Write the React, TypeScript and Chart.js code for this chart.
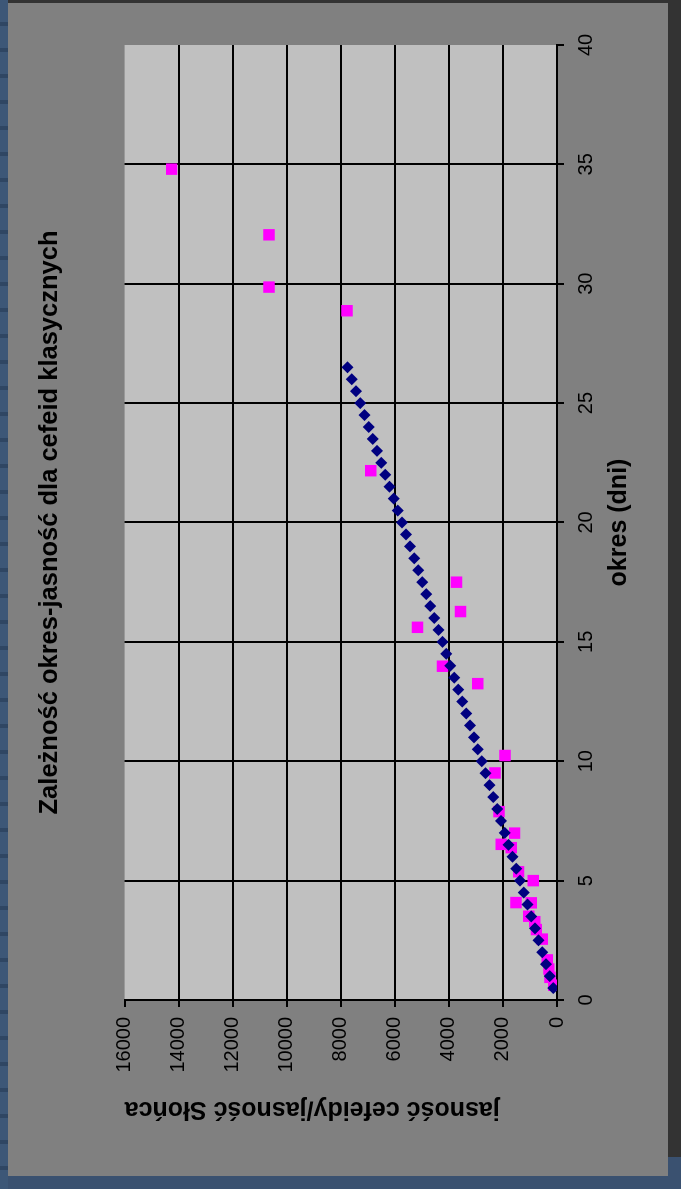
import React, { useEffect, useRef } from "react";
import { Chart, registerables } from "chart.js";

Chart.register(...registerables);

// ---- data ----
const chartTitle = "Zależność okres-jasność dla cefeid klasycznych";
const periodTitle = "okres (dni)";
const lumTitle = "jasność cefeidy/jasność Słońca";

const periodMin = 0;
const periodMax = 40;
const periodStep = 5;
const lumMin = 0;
const lumMax = 16000;
const lumStep = 2000;

// observed cepheids (magenta squares)
const obsPeriod = [
  34.8, 32.05, 29.86, 28.87, 22.17, 17.5, 16.27, 15.61, 13.98, 13.25, 10.24, 9.51, 7.89, 6.99,
  6.52, 6.38, 5.37, 5.0, 4.08, 4.07, 3.51, 3.28, 2.95, 2.55, 1.68, 1.3, 0.95, 0.62,
];
const obsLum = [
  14260, 10656, 10656, 7767, 6889, 3719, 3571, 5160, 4236, 2931, 1921, 2291, 2143, 1568,
  2062, 1691, 1420, 877, 1520, 950, 1042, 824, 764, 545, 364, 300, 260, 121,
];

// period-luminosity relation (navy diamonds)
const fitPeriod = [
  0.5, 1.0, 1.5, 2.0, 2.5, 3.0, 3.5, 4.0, 4.5, 5.0, 5.5, 6.0, 6.5, 7.0, 7.5, 8.0, 8.5, 9.0,
  9.5, 10.0, 10.5, 11.0, 11.5, 12.0, 12.5, 13.0, 13.5, 14.0, 14.5, 15.0, 15.5, 16.0, 16.5,
  17.0, 17.5, 18.0, 18.5, 19.0, 19.5, 20.0, 20.5, 21.0, 21.5, 22.0, 22.5, 23.0, 23.5, 24.0,
  24.5, 25.0, 25.5, 26.0, 26.5,
];
const fitLum = [
  135, 271, 407, 543, 680, 818, 956, 1094, 1232, 1371, 1511, 1651, 1791, 1932, 2073, 2214,
  2356, 2499, 2642, 2785, 2929, 3073, 3217, 3362, 3508, 3654, 3800, 3947, 4094, 4241, 4389,
  4538, 4686, 4836, 4985, 5135, 5286, 5437, 5588, 5740, 5892, 6045, 6198, 6351, 6505, 6660,
  6814, 6970, 7125, 7281, 7438, 7595, 7752,
];

// ---- layout (chart drawn in its natural orientation, then turned 90° left) ----
const W = 1173;
const H = 660;
const FONT = 'Arial, "Liberation Sans", sans-serif';

const bgPlugin = {
  id: "bg",
  beforeDraw(chart: any) {
    const { ctx, chartArea } = chart;
    ctx.save();
    ctx.fillStyle = "#808080";
    ctx.fillRect(0, 0, chart.width, chart.height);
    ctx.fillStyle = "#c0c0c0";
    ctx.fillRect(chartArea.left, chartArea.top, chartArea.right - chartArea.left, chartArea.bottom - chartArea.top);
    ctx.restore();
  },
};

export default function App() {
  const ref = useRef<HTMLCanvasElement>(null);

  useEffect(() => {
    const canvas = ref.current;
    if (!canvas) return;
    const chart = new Chart(canvas, {
      type: "scatter",
      data: {
        datasets: [
          {
            label: "zależność",
            data: fitPeriod.map((p, i) => ({ x: p, y: fitLum[i] })),
            pointStyle: "rectRot",
            pointRadius: 6,
            backgroundColor: "#000080",
            borderColor: "#000080",
            borderWidth: 0,
          },
          {
            label: "cefeidy",
            data: obsPeriod.map((p, i) => ({ x: p, y: obsLum[i] })),
            pointStyle: "rect",
            pointRadius: 8.1,
            backgroundColor: "#ff00ff",
            borderColor: "#ff00ff",
            borderWidth: 0,
          },
        ],
      },
      options: {
        responsive: false,
        animation: false,
        devicePixelRatio: 1,
        layout: { padding: { top: 12, left: 0, right: 42, bottom: 0 } },
        plugins: {
          legend: { display: false },
          tooltip: { enabled: false },
          title: {
            display: true,
            text: chartTitle,
            fullSize: false,
            color: "#000000",
            font: { family: FONT, size: 25.5, weight: "bold" },
            padding: { top: 15, bottom: 59 },
          },
        },
        scales: {
          x: {
            type: "linear",
            position: "bottom",
            min: periodMin,
            max: periodMax,
            afterFit: (s: any) => {
              s.height = 111;
            },
            ticks: {
              stepSize: periodStep,
              color: "#000000",
              padding: 10,
              maxRotation: 0,
              font: { family: FONT, size: 20 },
              callback: (v: any) => String(v),
            },
            grid: {
              color: (c: any) => (c.tick && c.tick.value === periodMax ? "rgba(0,0,0,0)" : "#000000"),
              tickColor: "#000000",
              lineWidth: 2,
              tickLength: 7,
              drawTicks: true,
            },
            border: { display: true, color: "#000000", width: 2 },
            title: {
              display: true,
              text: periodTitle,
              color: "#000000",
              font: { family: FONT, size: 25, weight: "bold" },
              padding: { top: 0, bottom: 34 },
            },
          },
          y: {
            type: "linear",
            position: "left",
            min: lumMin,
            max: lumMax,
            afterFit: (s: any) => {
              s.width = 176;
            },
            ticks: {
              stepSize: lumStep,
              color: "#000000",
              padding: 10,
              font: { family: FONT, size: 20 },
              callback: (v: any) => String(v),
            },
            grid: {
              color: (c: any) => (c.tick && c.tick.value === lumMax ? "rgba(0,0,0,0)" : "#000000"),
              tickColor: "#000000",
              lineWidth: 2,
              tickLength: 7,
              drawTicks: true,
            },
            border: { display: true, color: "#000000", width: 2 },
            title: {
              display: true,
              text: lumTitle,
              align: "end",
              color: "#000000",
              font: { family: FONT, size: 25, weight: "bold" },
              padding: { top: 52, bottom: 0 },
            },
          },
        },
      },
      plugins: [bgPlugin],
    } as any);
    return () => chart.destroy();
  }, []);

  return (
    <div
      style={{
        position: "fixed",
        left: 0,
        top: 0,
        width: 681,
        height: 1189,
        overflow: "hidden",
        background: "repeating-linear-gradient(to bottom, #3d5777 0px, #3d5777 22px, #2f4663 22px, #2f4663 26px)",
      }}
    >
      <div style={{ position: "absolute", left: 8, top: 0, width: 673, height: 3, background: "#333333" }} />
      <div style={{ position: "absolute", left: 668, top: 0, width: 13, height: 1157, background: "#333333" }} />
      <div style={{ position: "absolute", left: 8, top: 1176, width: 673, height: 13, background: "#3a5170" }} />
      <div style={{ position: "absolute", left: 668, top: 1157, width: 13, height: 19, background: "#3a5170" }} />
      <div
        style={{
          position: "absolute",
          left: 0,
          top: 0,
          width: W,
          height: H,
          transformOrigin: "0 0",
          transform: "translate(8px, 1176px) rotate(-90deg)",
        }}
      >
        <canvas ref={ref} width={W} height={H} style={{ width: W, height: H, display: "block" }} />
      </div>
    </div>
  );
}
